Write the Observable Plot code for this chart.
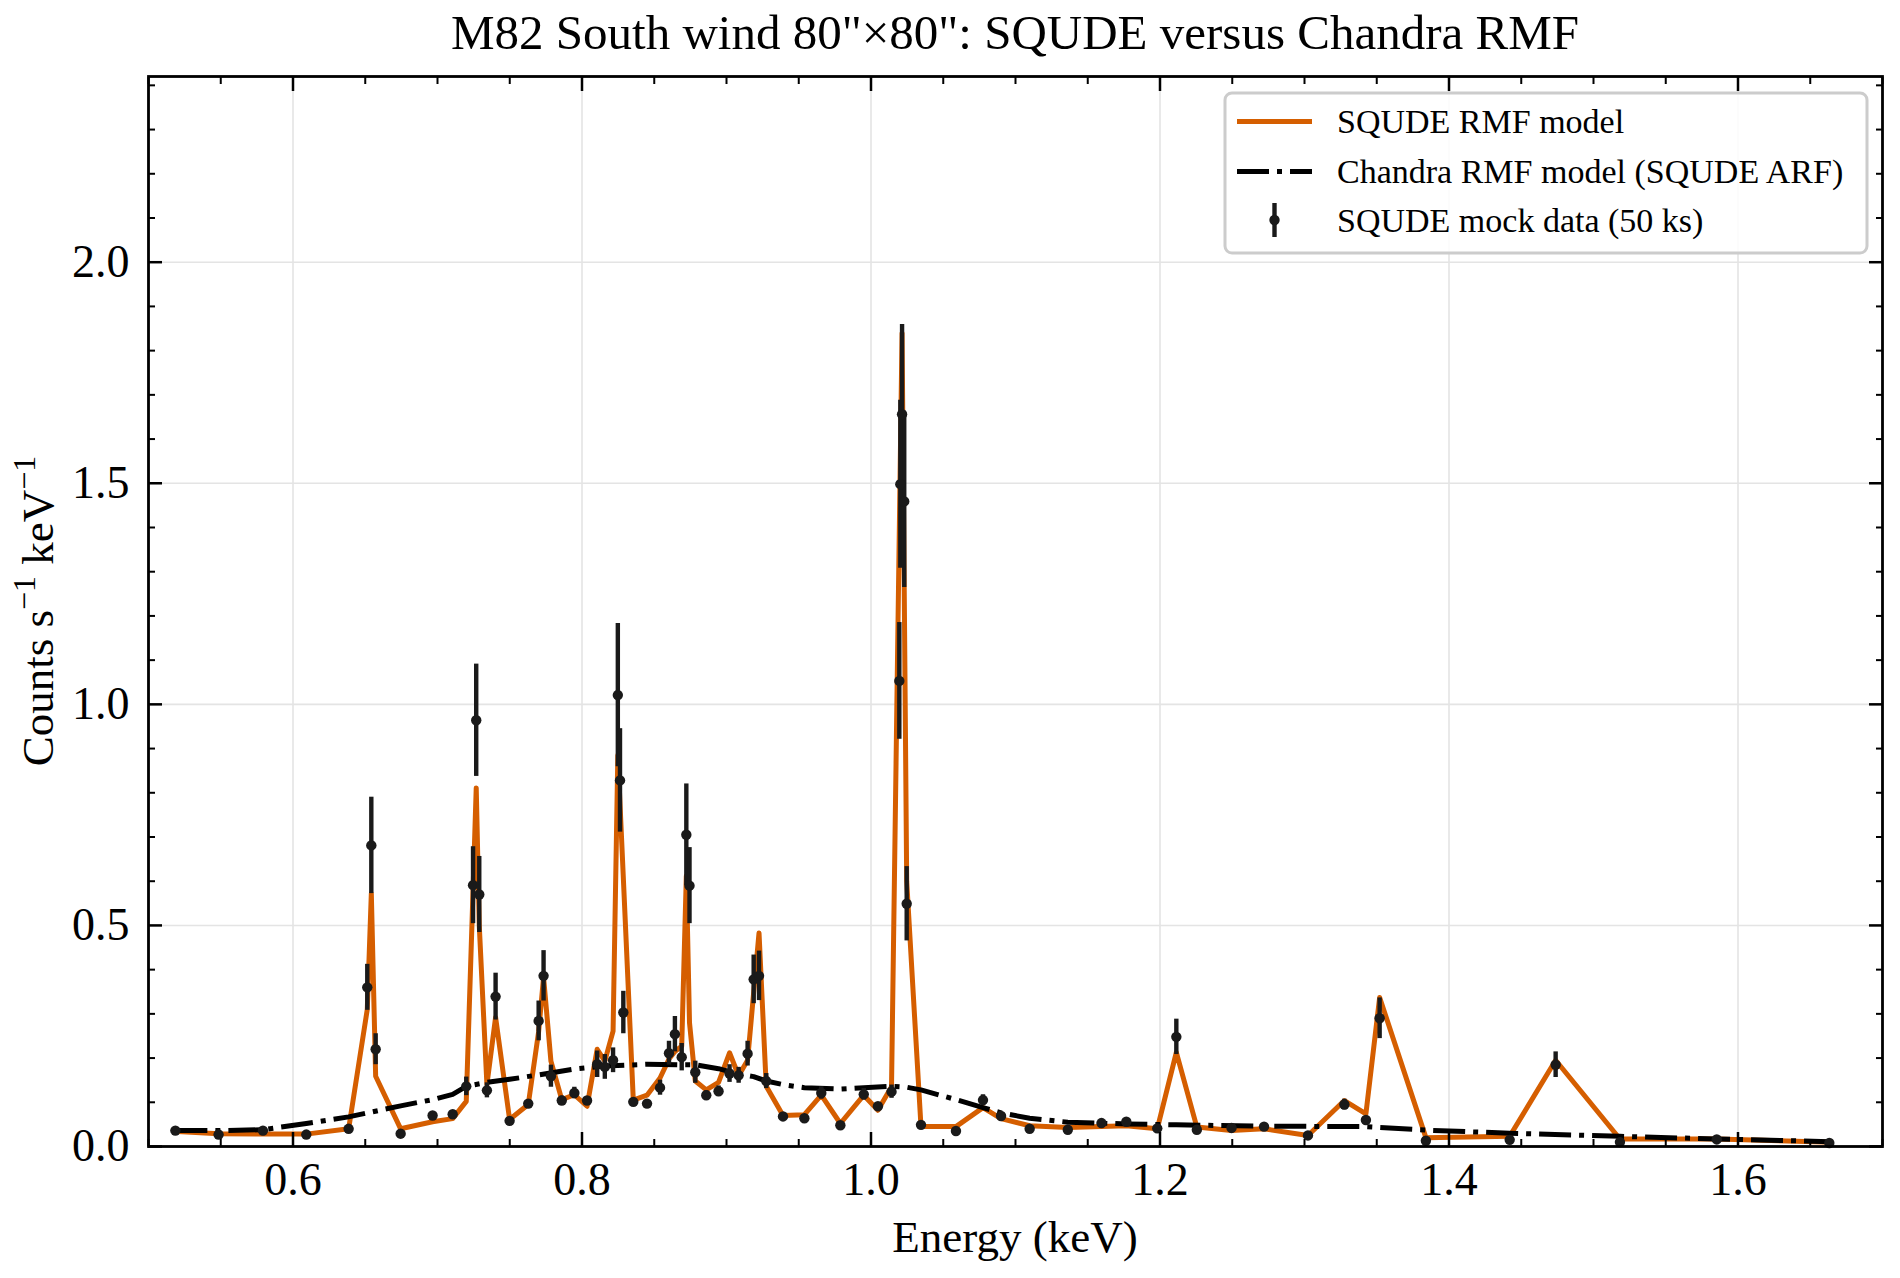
<!DOCTYPE html>
<html>
<head>
<meta charset="utf-8">
<script src="https://cdn.jsdelivr.net/npm/d3@7"></script>
<script src="https://cdn.jsdelivr.net/npm/@observablehq/plot@0.6"></script>
<style>
  html, body { margin: 0; padding: 0; background: #ffffff; }
  #chart svg { display: block; }
</style>
</head>
<body>
<div id="chart"></div>
<script>
// ---- SQUDE mock spectrum (50 ks): bin energy (keV), rate (counts/s/keV), 1-sigma error ----
const dataEnergy = [
  0.5186, 0.5485, 0.5792, 0.6092, 0.6385, 0.6514, 0.6542, 0.6572, 0.6745, 0.6966,
  0.7105, 0.7199, 0.7246, 0.7268, 0.7289, 0.7342, 0.7402, 0.7499, 0.7628, 0.7700,
  0.7734, 0.7785, 0.7860, 0.7947, 0.8035, 0.8105, 0.8158, 0.8215, 0.8248, 0.8263,
  0.8286, 0.8355, 0.8450, 0.8540, 0.8602, 0.8643, 0.8690, 0.8722, 0.8744, 0.8784,
  0.8860, 0.8945, 0.9021, 0.9084, 0.9146, 0.9188, 0.9225, 0.9275, 0.9391, 0.9539,
  0.9656, 0.9788, 0.9950, 1.0048, 1.0142, 1.0196, 1.0203, 1.0215, 1.0230, 1.0247,
  1.0346, 1.0588, 1.0775, 1.0900, 1.1098, 1.1362, 1.1595, 1.1767, 1.1981, 1.2113,
  1.2255, 1.2495, 1.2720, 1.3024, 1.3276, 1.3425, 1.3520, 1.3840, 1.4420, 1.4738,
  1.5183, 1.5853, 1.6632
];
const dataRate = [
  0.036, 0.027, 0.036, 0.027, 0.040, 0.360, 0.681, 0.220, 0.029, 0.070,
  0.073, 0.136, 0.591, 0.964, 0.570, 0.127, 0.339, 0.058, 0.097, 0.284,
  0.386, 0.159, 0.104, 0.121, 0.104, 0.186, 0.180, 0.195, 1.021, 0.828,
  0.303, 0.101, 0.097, 0.133, 0.211, 0.254, 0.202, 0.705, 0.590, 0.168,
  0.116, 0.125, 0.165, 0.161, 0.210, 0.378, 0.386, 0.148, 0.068, 0.064,
  0.121, 0.048, 0.118, 0.091, 0.124, 1.053, 1.498, 1.656, 1.459, 0.549,
  0.049, 0.035, 0.105, 0.069, 0.040, 0.038, 0.053, 0.056, 0.041, 0.248,
  0.038, 0.042, 0.045, 0.025, 0.095, 0.060, 0.290, 0.013, 0.015, 0.185,
  0.010, 0.016, 0.008
];
const dataError = [
  0.004, 0.004, 0.004, 0.004, 0.005, 0.052, 0.109, 0.035, 0.004, 0.006,
  0.006, 0.021, 0.087, 0.127, 0.086, 0.017, 0.053, 0.005, 0.008, 0.045,
  0.057, 0.025, 0.010, 0.013, 0.008, 0.030, 0.028, 0.028, 0.162, 0.117,
  0.048, 0.008, 0.008, 0.017, 0.027, 0.040, 0.031, 0.115, 0.086, 0.025,
  0.010, 0.012, 0.020, 0.018, 0.028, 0.055, 0.056, 0.017, 0.005, 0.005,
  0.014, 0.005, 0.013, 0.008, 0.015, 0.132, 0.190, 0.203, 0.195, 0.084,
  0.005, 0.004, 0.012, 0.006, 0.004, 0.004, 0.005, 0.005, 0.004, 0.040,
  0.004, 0.004, 0.004, 0.003, 0.012, 0.006, 0.046, 0.002, 0.002, 0.029,
  0.002, 0.002, 0.002
];

// ---- folded model through the SQUDE response ----
const squdeEnergy = [
  0.5186, 0.5485, 0.5792, 0.6092, 0.6385, 0.6514, 0.6542, 0.6572, 0.6745, 0.6966,
  0.7105, 0.7199, 0.7246, 0.7268, 0.7289, 0.7342, 0.7402, 0.7499, 0.7628, 0.7700,
  0.7734, 0.7785, 0.7860, 0.7947, 0.8035, 0.8105, 0.8158, 0.8215, 0.8248, 0.8355,
  0.8450, 0.8540, 0.8602, 0.8643, 0.8690, 0.8722, 0.8744, 0.8784, 0.8860, 0.8945,
  0.9021, 0.9084, 0.9146, 0.9225, 0.9275, 0.9391, 0.9539, 0.9656, 0.9788, 0.9950,
  1.0048, 1.0142, 1.0215, 1.0247, 1.0346, 1.0588, 1.0775, 1.0900, 1.1098, 1.1362,
  1.1595, 1.1767, 1.1981, 1.2113, 1.2255, 1.2495, 1.2720, 1.3024, 1.3276, 1.3425,
  1.3520, 1.3840, 1.4420, 1.4738, 1.5183, 1.5853, 1.6632
];
const squdeRate = [
  0.034, 0.029, 0.028, 0.028, 0.040, 0.310, 0.572, 0.159, 0.040, 0.056,
  0.063, 0.102, 0.580, 0.811, 0.500, 0.140, 0.292, 0.061, 0.095, 0.260,
  0.383, 0.193, 0.106, 0.117, 0.091, 0.220, 0.193, 0.261, 0.885, 0.105,
  0.116, 0.155, 0.198, 0.215, 0.227, 0.612, 0.280, 0.148, 0.128, 0.145,
  0.212, 0.160, 0.195, 0.483, 0.136, 0.070, 0.072, 0.116, 0.052, 0.116,
  0.082, 0.135, 1.840, 0.600, 0.045, 0.045, 0.088, 0.063, 0.047, 0.043,
  0.045, 0.047, 0.040, 0.213, 0.044, 0.036, 0.040, 0.025, 0.104, 0.074,
  0.337, 0.020, 0.023, 0.195, 0.017, 0.017, 0.010
];

// ---- same model folded through the Chandra RMF (SQUDE ARF) ----
const chandraEnergy = [
  0.5186, 0.5485, 0.5792, 0.6092, 0.6385, 0.6745, 0.6966, 0.7105, 0.7199, 0.7342,
  0.7499, 0.7700, 0.7947, 0.8158, 0.8450, 0.8690, 0.8784, 0.8945, 0.9084, 0.9188,
  0.9275, 0.9391, 0.9539, 0.9788, 0.9950, 1.0142, 1.0247, 1.0346, 1.0588, 1.0775,
  1.0900, 1.1098, 1.1362, 1.1767, 1.2113, 1.2720, 1.3425, 1.3840, 1.4420, 1.5183,
  1.5853, 1.6632
];
const chandraRate = [
  0.036, 0.036, 0.038, 0.052, 0.067, 0.092, 0.106, 0.118, 0.136, 0.145,
  0.152, 0.162, 0.175, 0.182, 0.186, 0.185, 0.185, 0.176, 0.164, 0.158,
  0.148, 0.140, 0.133, 0.130, 0.133, 0.136, 0.134, 0.128, 0.106, 0.088,
  0.076, 0.064, 0.055, 0.051, 0.049, 0.046, 0.045, 0.037, 0.030, 0.023,
  0.017, 0.011
];

// ---- axes ----
const xDomain = [0.5, 1.7];
const yDomain = [0, 2.42];
const xMajorTicks = [0.6, 0.8, 1.0, 1.2, 1.4, 1.6];
const xMinorTicks = [0.5, 0.55, 0.65, 0.7, 0.75, 0.85, 0.9, 0.95, 1.05, 1.1, 1.15,
                     1.25, 1.3, 1.35, 1.45, 1.5, 1.55, 1.65, 1.7];
const yMajorTicks = [0, 0.5, 1.0, 1.5, 2.0];
const yMinorTicks = [0.1, 0.2, 0.3, 0.4, 0.6, 0.7, 0.8, 0.9, 1.1, 1.2, 1.3, 1.4,
                     1.6, 1.7, 1.8, 1.9, 2.1, 2.2, 2.3, 2.4];

const titleText = "M82 South wind 80\"\u00d780\": SQUDE versus Chandra RMF";
const xLabel = "Energy (keV)";
const legendLabels = ["SQUDE RMF model", "Chandra RMF model (SQUDE ARF)", "SQUDE mock data (50 ks)"];

const orange = "#d55e00";
const ink = "#1a1a1a";
const serif = "'Liberation Serif', 'Times New Roman', serif";
const lineWidth = 5;
const dashDot = "32,8,5,8";

// ---- layout ----
const W = 1900, H = 1278;
const margin = {left: 148, right: 18, top: 76, bottom: 132};

const points = dataEnergy.map((e, i) => ({energy: e, rate: dataRate[i], err: dataError[i]}));
const squde = squdeEnergy.map((e, i) => ({energy: e, rate: squdeRate[i]}));
const chandra = chandraEnergy.map((e, i) => ({energy: e, rate: chandraRate[i]}));

const fmt = d3.format(".1f");
const tickAxes = [];
for (const anchor of ["bottom", "top"]) {
  tickAxes.push(Plot.axisX({ticks: xMajorTicks, anchor, tickSize: -14, fill: "none", label: null, strokeWidth: 2.5, stroke: "black"}));
  tickAxes.push(Plot.axisX({ticks: xMinorTicks, anchor, tickSize: -7, fill: "none", label: null, strokeWidth: 2, stroke: "black"}));
}
for (const anchor of ["left", "right"]) {
  tickAxes.push(Plot.axisY({ticks: yMajorTicks, anchor, tickSize: -14, fill: "none", label: null, strokeWidth: 2.5, stroke: "black"}));
  tickAxes.push(Plot.axisY({ticks: yMinorTicks, anchor, tickSize: -7, fill: "none", label: null, strokeWidth: 2, stroke: "black"}));
}

const chart = Plot.plot({
  width: W,
  height: H,
  marginLeft: margin.left,
  marginRight: margin.right,
  marginTop: margin.top,
  marginBottom: margin.bottom,
  style: {fontFamily: serif, background: "white", color: "black", overflow: "visible"},
  x: {domain: xDomain},
  y: {domain: yDomain},
  marks: [
    Plot.gridX({ticks: xMajorTicks, stroke: "#e4e4e4", strokeOpacity: 1, strokeWidth: 1.6}),
    Plot.gridY({ticks: yMajorTicks, stroke: "#e4e4e4", strokeOpacity: 1, strokeWidth: 1.6}),
    Plot.line(squde, {x: "energy", y: "rate", stroke: orange, strokeWidth: lineWidth,
                      strokeLinejoin: "round", strokeLinecap: "square"}),
    Plot.line(chandra, {x: "energy", y: "rate", stroke: "black", strokeWidth: lineWidth,
                        strokeDasharray: dashDot, strokeLinecap: "butt",
                        strokeLinejoin: "round"}),
    Plot.ruleX(points, {x: "energy", y1: d => d.rate - d.err, y2: d => d.rate + d.err,
                        stroke: ink, strokeWidth: 4.4}),
    Plot.dot(points, {x: "energy", y: "rate", r: 5.2, fill: ink, stroke: null}),
    Plot.frame({stroke: "black", strokeWidth: 2.8}),
    ...tickAxes,
    Plot.axisX({ticks: xMajorTicks, anchor: "bottom", tickSize: 0, tickPadding: 16,
                tickFormat: fmt, fontSize: 46, label: null, fill: "black"}),
    Plot.axisY({ticks: yMajorTicks, anchor: "left", tickSize: 0, tickPadding: 19,
                tickFormat: fmt, fontSize: 46, label: null, fill: "black"})
  ]
});

document.getElementById("chart").appendChild(chart);

// ---- title, axis labels and legend ----
const svg = d3.select(chart);
const frameLeft = margin.left, frameRight = W - margin.right;
const frameTop = margin.top, frameBottom = H - margin.bottom;
const frameMidX = (frameLeft + frameRight) / 2, frameMidY = (frameTop + frameBottom) / 2;

svg.append("text")
  .attr("x", frameMidX).attr("y", 49)
  .attr("text-anchor", "middle")
  .attr("font-family", serif).attr("font-size", 49).attr("fill", "black")
  .text(titleText);

svg.append("text")
  .attr("x", frameMidX).attr("y", 1252)
  .attr("text-anchor", "middle")
  .attr("font-family", serif).attr("font-size", 45).attr("fill", "black")
  .text(xLabel);

const yl = svg.append("text")
  .attr("transform", `translate(53,${frameMidY}) rotate(-90)`)
  .attr("text-anchor", "middle")
  .attr("font-family", serif).attr("font-size", 45).attr("fill", "black");
yl.append("tspan").text("Counts s");
yl.append("tspan").attr("font-size", 32).attr("dy", -18).text("\u22121");
yl.append("tspan").attr("font-size", 45).attr("dy", 18).text(" keV");
yl.append("tspan").attr("font-size", 32).attr("dy", -18).text("\u22121");

// legend box in the upper-right corner of the frame
const lgRight = frameRight - 15, lgTop = frameTop + 17;
const lgW = 642, lgH = 160;
const lg = svg.append("g").attr("transform", `translate(${lgRight - lgW},${lgTop})`);
lg.append("rect")
  .attr("x", 0).attr("y", 0).attr("width", lgW).attr("height", lgH).attr("rx", 7)
  .attr("fill", "white").attr("fill-opacity", 0.85)
  .attr("stroke", "#cccccc").attr("stroke-width", 3);
const rowY = [28.5, 78.5, 127];
const hx0 = 12, hx1 = 87, tx = 112;
// row 1: solid orange line
lg.append("line").attr("x1", hx0).attr("x2", hx1).attr("y1", rowY[0]).attr("y2", rowY[0])
  .attr("stroke", orange).attr("stroke-width", lineWidth);
// row 2: dash-dot black line
lg.append("line").attr("x1", hx0).attr("x2", hx1).attr("y1", rowY[1]).attr("y2", rowY[1])
  .attr("stroke", "black").attr("stroke-width", lineWidth)
  .attr("stroke-dasharray", dashDot);
// row 3: point with error bar
const hxm = (hx0 + hx1) / 2;
lg.append("line").attr("x1", hxm).attr("x2", hxm).attr("y1", rowY[2] - 17).attr("y2", rowY[2] + 17)
  .attr("stroke", ink).attr("stroke-width", 4.4);
lg.append("circle").attr("cx", hxm).attr("cy", rowY[2]).attr("r", 5.2).attr("fill", ink);
legendLabels.forEach((t, i) => {
  lg.append("text")
    .attr("x", tx).attr("y", rowY[i] + 11.5)
    .attr("text-anchor", "start")
    .attr("font-family", serif).attr("font-size", 34).attr("fill", "black")
    .text(t);
});
</script>
</body>
</html>
